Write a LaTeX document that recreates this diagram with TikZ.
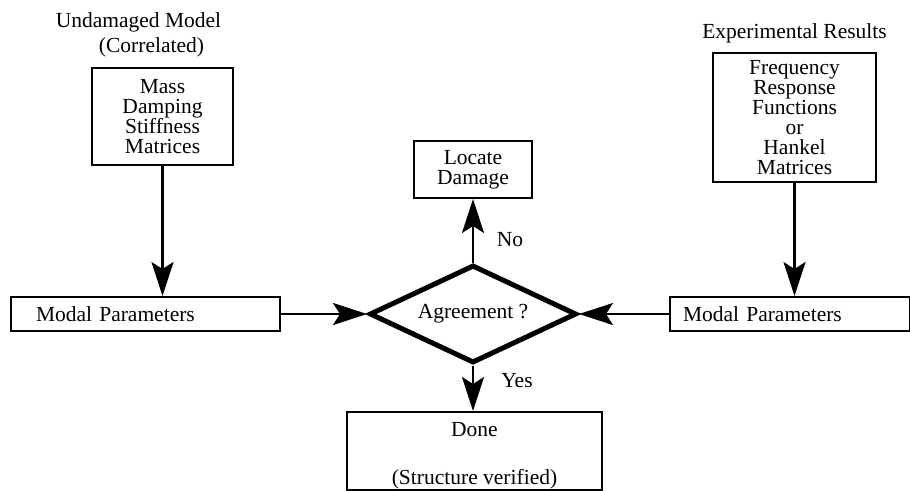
\documentclass[tikz,border=0pt]{standalone}
\usepackage{fontspec}
\setmainfont{Liberation Serif}
\usetikzlibrary{shapes.geometric,arrows.meta}

\begin{document}
\begin{tikzpicture}[x=1pt,y=-1pt,
  every node/.style={font=\fontsize{21.5}{20}\selectfont},
  box/.style={draw,line width=2pt,inner sep=0pt,align=center},
  modalbox/.style={draw,line width=2pt,inner ysep=0pt,align=left,
    minimum height=34pt,anchor=west},
  title/.style={inner sep=0pt},
  decision/.style={draw,diamond,line width=5pt,inner sep=0pt,
    minimum width=207pt,minimum height=98pt,aspect=2.1},
  flow/.style={line width=2.2pt,-{Stealth[length=34pt,width=22pt,inset=7pt]}},
  answer/.style={inner sep=0pt}
]
\useasboundingbox (0,0) rectangle (910,490);

% inputs
\node[title] (undamaged) at (138.5,22) {Undamaged Model};
\node[title] (correlated) at (151.5,47) {(Correlated)};
\node[title] (experimental) at (794.5,33) {Experimental Results};

\node[box,minimum width=141pt,minimum height=97pt] (matrices) at (162.5,116.5)
  {Mass\\Damping\\Stiffness\\Matrices};
\node[box,minimum width=163pt,minimum height=129pt] (frf) at (794.5,117.5)
  {Frequency\\Response\\Functions\\or\\Hankel\\Matrices};

% modal parameters
\node[modalbox,minimum width=269pt,inner xsep=25pt,text width=219pt] (modalL) at (10,314)
  {Modal Parameters};
\node[modalbox,minimum width=240pt,inner xsep=13pt,text width=214pt] (modalR) at (669,314)
  {Modal Parameters};

% comparison
\node[decision] (agree) at (473,314) {Agreement ?};

\node[box,minimum width=118pt,minimum height=57pt] (locate) at (473,169.5)
  {Locate\\Damage};
\node[box,minimum width=255pt,minimum height=78pt,anchor=north,
      text height=72pt,text depth=6pt] (done) at (474.5,411)
  {Done\\[28pt](Structure verified)};

% connectors
\draw[flow] (matrices.south) -- (matrices.south |- modalL.north);
\draw[flow] (frf.south) -- (frf.south |- modalR.north);
\draw[flow] (modalL.east) -- (agree.west);
\draw[flow] (modalR.west) -- (agree.east);
\draw[flow] (agree.north) -- (locate.south);
\draw[flow] (agree.south) -- (agree.south |- done.north);

\node[answer] (no) at (510,240) {No};
\node[answer] (yes) at (517,381) {Yes};
\end{tikzpicture}
\end{document}
